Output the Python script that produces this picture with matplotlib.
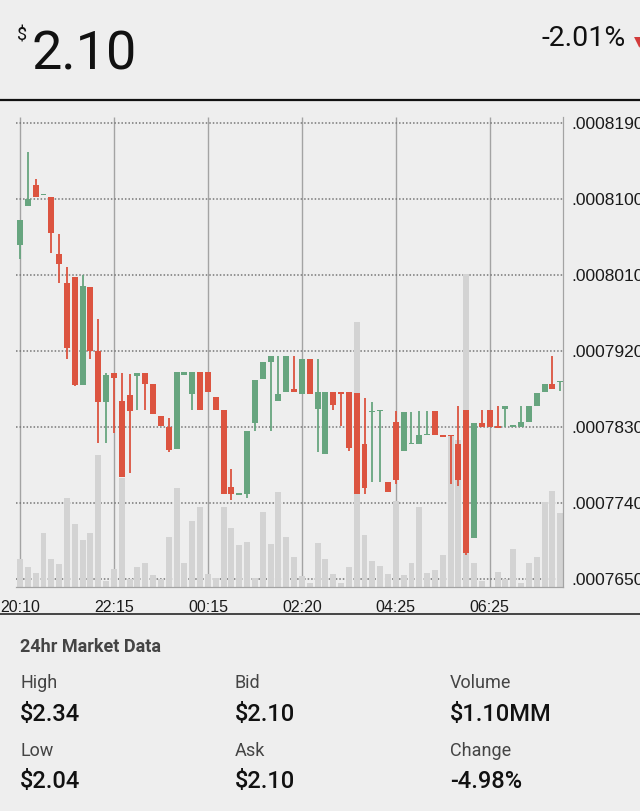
import numpy as np
import matplotlib.pyplot as plt

# 10-minute candles, price in USD per unit
opens = [0.0008045, 0.0008092, 0.0008116, 0.0008104, 0.0008102, 0.0008035, 0.0008000, 0.0008007, 0.0007879, 0.0007996,
         0.0007920, 0.0007859, 0.0007894, 0.0007861, 0.0007868, 0.0007890, 0.0007894, 0.0007880, 0.0007843, 0.0007830,
         0.0007803, 0.0007891, 0.0007869, 0.0007895, 0.0007895, 0.0007865, 0.0007850, 0.0007759, 0.0007749, 0.0007750,
         0.0007834, 0.0007886, 0.0007907, 0.0007860, 0.0007871, 0.0007875, 0.0007869, 0.0007910, 0.0007851, 0.0007798,
         0.0007871, 0.0007871, 0.0007871, 0.0007870, 0.0007809, 0.0007847, 0.0007848, 0.0007764, 0.0007835, 0.0007801,
         0.0007809, 0.0007810, 0.0007820, 0.0007848, 0.0007820, 0.0007820, 0.0007810, 0.0007850, 0.0007698, 0.0007834,
         0.0007850, 0.0007830, 0.0007851, 0.0007830, 0.0007830, 0.0007835, 0.0007854, 0.0007871, 0.0007880, 0.0007883]
highs = [0.0008075, 0.0008155, 0.0008124, 0.0008105, 0.0008102, 0.0008058, 0.0008019, 0.0008007, 0.0008010, 0.0007996,
         0.0007958, 0.0007894, 0.0007894, 0.0007894, 0.0007893, 0.0007894, 0.0007894, 0.0007880, 0.0007843, 0.0007840,
         0.0007895, 0.0007895, 0.0007895, 0.0007895, 0.0007895, 0.0007865, 0.0007850, 0.0007780, 0.0007751, 0.0007825,
         0.0007885, 0.0007907, 0.0007914, 0.0007914, 0.0007914, 0.0007914, 0.0007910, 0.0007910, 0.0007910, 0.0007871,
         0.0007871, 0.0007871, 0.0007871, 0.0007870, 0.0007864, 0.0007859, 0.0007849, 0.0007764, 0.0007848, 0.0007847,
         0.0007847, 0.0007848, 0.0007848, 0.0007848, 0.0007820, 0.0007820, 0.0007854, 0.0007850, 0.0007834, 0.0007850,
         0.0007850, 0.0007854, 0.0007854, 0.0007831, 0.0007854, 0.0007854, 0.0007870, 0.0007880, 0.0007914, 0.0007884]
lows = [0.0008029, 0.0008092, 0.0008102, 0.0008104, 0.0008036, 0.0008000, 0.0007910, 0.0007878, 0.0007879, 0.0007910,
        0.0007811, 0.0007811, 0.0007823, 0.0007770, 0.0007775, 0.0007850, 0.0007850, 0.0007845, 0.0007831, 0.0007800,
        0.0007803, 0.0007891, 0.0007850, 0.0007850, 0.0007871, 0.0007850, 0.0007750, 0.0007743, 0.0007749, 0.0007746,
        0.0007825, 0.0007886, 0.0007825, 0.0007860, 0.0007871, 0.0007871, 0.0007869, 0.0007869, 0.0007800, 0.0007798,
        0.0007850, 0.0007831, 0.0007801, 0.0007750, 0.0007750, 0.0007764, 0.0007764, 0.0007752, 0.0007762, 0.0007801,
        0.0007809, 0.0007810, 0.0007820, 0.0007820, 0.0007818, 0.0007762, 0.0007760, 0.0007678, 0.0007698, 0.0007830,
        0.0007830, 0.0007829, 0.0007830, 0.0007830, 0.0007830, 0.0007835, 0.0007854, 0.0007871, 0.0007875, 0.0007872]
closes = [0.0008075, 0.0008100, 0.0008102, 0.0008105, 0.0008059, 0.0008023, 0.0007923, 0.0007879, 0.0007997, 0.0007920,
          0.0007859, 0.0007891, 0.0007888, 0.0007770, 0.0007848, 0.0007894, 0.0007880, 0.0007845, 0.0007831, 0.0007802,
          0.0007895, 0.0007895, 0.0007895, 0.0007850, 0.0007871, 0.0007850, 0.0007750, 0.0007750, 0.0007751, 0.0007825,
          0.0007885, 0.0007907, 0.0007914, 0.0007869, 0.0007914, 0.0007871, 0.0007910, 0.0007869, 0.0007871, 0.0007871,
          0.0007856, 0.0007869, 0.0007805, 0.0007750, 0.0007757, 0.0007848, 0.0007849, 0.0007752, 0.0007767, 0.0007847,
          0.0007811, 0.0007820, 0.0007821, 0.0007820, 0.0007818, 0.0007819, 0.0007767, 0.0007680, 0.0007834, 0.0007830,
          0.0007830, 0.0007829, 0.0007854, 0.0007831, 0.0007835, 0.0007854, 0.0007870, 0.0007880, 0.0007875, 0.0007884]
# relative volume per candle
volumes = [28, 20, 14, 54, 28, 23, 89, 63, 47, 54,
           132, 6, 18, 109, 8, 20, 24, 12, 8, 50,
           99, 24, 66, 80, 13, 9, 80, 59, 42, 45,
           9, 75, 43, 95, 50, 30, 11, 4, 44, 28,
           13, 4, 20, 265, 52, 26, 21, 13, 86, 12,
           24, 80, 14, 17, 32, 152, 147, 313, 24, 6,
           0, 15, 8, 38, 4, 24, 30, 85, 96, 74]

price_ticks = [0.0008190, 0.0008100, 0.0008010, 0.0007920, 0.0007830, 0.0007740, 0.0007650]
time_ticks = [0, 12, 24, 36, 48, 60]
time_labels = ['20:10', '22:15', '00:15', '02:20', '04:25', '06:25']

stats_labels = [['High', 'Bid', 'Volume'], ['Low', 'Ask', 'Change']]
stats_values = [['$2.34', '$2.10', '$1.10MM'], ['$2.04', '$2.10', '-4.98%']]

GREEN = '#67a57f'
RED = '#dc5440'
BG = '#eeeeee'
W, H = 640, 811

def fx(x):
    return x / W

def fy(y):
    return 1 - y / H

fig = plt.figure(figsize=(6.4, 8.11), dpi=100, facecolor=BG)

# volume axes underneath, price axes on top
rect = [fx(16), fy(587), fx(563) - fx(16), fy(117) - fy(587)]
axv = fig.add_axes(rect)
ax = axv.twinx()
axv.set_facecolor(BG)
ax.patch.set_visible(False)

x = np.arange(len(opens))
o = np.array(opens); c = np.array(closes)
hi = np.array(highs); lo = np.array(lows)
colors = [GREEN if cc >= oo else RED for oo, cc in zip(o, c)]

xmin, xmax = -0.51, 69.35
ymin, ymax = 0.0007640, 0.0008197

# grid lines (drawn in the bottom axes so the volume bars sit over them)
axv.vlines(time_ticks, 0, 1, transform=axv.get_xaxis_transform(), color='#a3a3a3', lw=1.0, zorder=0)
axv.hlines(price_ticks, xmin, xmax, transform=ax.transData, color='#777777', lw=1.1,
           linestyles=(0, (1, 1.3)), zorder=0)

axv.bar(x, volumes, width=0.76, color='#d3d3d3', zorder=1)
axv.set_ylim(0, 470)
axv.set_xlim(xmin, xmax)
axv.set_yticks([])

# candles
ax.vlines(x, lo, hi, colors=colors, lw=1.3, zorder=2)
body = np.maximum(np.abs(c - o), 1.5e-7)
ax.bar(x, body, bottom=np.minimum(o, c), width=0.76, color=colors, zorder=3)
ax.set_ylim(ymin, ymax)
ax.set_xlim(xmin, xmax)

ax.set_yticks(price_ticks)
ax.set_yticklabels([f'{v:.7f}'.lstrip('0') for v in price_ticks],
                   fontsize=12.5, family='Liberation Sans', color='#1a1a1a')
ax.tick_params(axis='y', length=0, pad=6)
axv.set_xticks(time_ticks)
axv.set_xticklabels(time_labels, fontsize=11.5, family='Liberation Sans', color='#1a1a1a')
axv.tick_params(axis='x', length=0, pad=9)

for a in (ax, axv):
    for s in ('top', 'left'):
        a.spines[s].set_visible(False)
    a.spines['right'].set_color('#a3a3a3')
    a.spines['bottom'].set_color('#a3a3a3')

# header
fig.text(fx(17), fy(27), '$', fontsize=13, family='Roboto', color='#111111', va='top', ha='left')
fig.text(fx(31), fy(69), '2.10', fontsize=39, family='Roboto', color='#111111', va='baseline', ha='left')
fig.text(fx(541), fy(46), '-2.01%', fontsize=20.5, family='Roboto', color='#111111', va='baseline', ha='left')
fig.text(fx(634), fy(45), '\u25bc', fontsize=10, family='DejaVu Sans', color='#d23b3b', va='baseline', ha='left')
fig.add_artist(plt.Line2D([0, 1], [fy(100), fy(100)], color='#111111', lw=1.6))
fig.add_artist(plt.Line2D([0, 1], [fy(614), fy(614)], color='#444444', lw=1.4))

# 24hr market data panel
fig.text(fx(20), fy(652), '24hr Market Data', fontsize=13, family='Roboto', weight='bold',
         color='#444444', va='baseline')
col_x = [20, 235, 450]
row_y = [(688, 721), (756, 788)]
for r in range(2):
    for k in range(3):
        fig.text(fx(col_x[k]), fy(row_y[r][0]), stats_labels[r][k], fontsize=13, family='Roboto',
                 color='#444444', va='baseline')
        fig.text(fx(col_x[k]), fy(row_y[r][1]), stats_values[r][k], fontsize=17, family='Roboto',
                 weight='medium', color='#111111', va='baseline')

fig.savefig('out.png', dpi=100, facecolor=BG)
